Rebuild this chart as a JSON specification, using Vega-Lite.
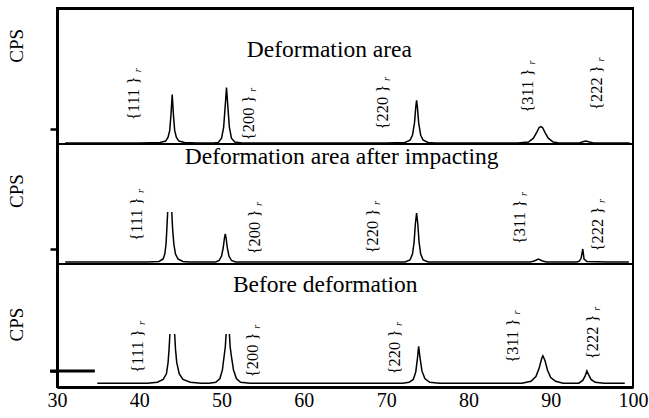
{
  "$schema": "https://vega.github.io/schema/vega-lite/v6.json",
  "background": "white",
  "padding": {"left": 7, "top": 7, "right": 14, "bottom": 3},
  "spacing": 0,
  "bounds": "flush",
  "config": {
    "view": {"stroke": "black", "strokeWidth": 2},
    "concat": {"spacing": 0},
    "axis": {"grid": false, "domainColor": "black", "tickColor": "black", "labelColor": "black", "titleColor": "black", "labelFont": "Liberation Serif", "titleFont": "Liberation Serif"},
    "text": {"font": "Liberation Serif", "color": "black"}
  },
  "resolve": {"scale": {"y": "independent"}},
  "datasets": {
    "line1": [
      {"seg":"a","x":31,"y":1},{"seg":"a","x":40,"y":1},{"seg":"a","x":42.5,"y":1.5},{"seg":"a","x":43.2,"y":3},{"seg":"a","x":43.5,"y":7},{"seg":"a","x":43.7,"y":14},{"seg":"a","x":43.85,"y":30},{"seg":"a","x":44.0,"y":51},{"seg":"a","x":44.15,"y":30},{"seg":"a","x":44.3,"y":14},{"seg":"a","x":44.5,"y":7},{"seg":"a","x":44.8,"y":3},{"seg":"a","x":45.5,"y":1.5},{"seg":"a","x":47,"y":1},{"seg":"a","x":49,"y":1},{"seg":"a","x":49.6,"y":1.5},{"seg":"a","x":50.0,"y":6},{"seg":"a","x":50.25,"y":17},{"seg":"a","x":50.45,"y":40},{"seg":"a","x":50.6,"y":58},{"seg":"a","x":50.75,"y":40},{"seg":"a","x":50.95,"y":17},{"seg":"a","x":51.2,"y":6},{"seg":"a","x":51.6,"y":2},{"seg":"a","x":52.5,"y":1},{"seg":"a","x":70,"y":1},{"seg":"a","x":72.3,"y":1.5},{"seg":"a","x":72.9,"y":4},{"seg":"a","x":73.2,"y":9},{"seg":"a","x":73.45,"y":22},{"seg":"a","x":73.6,"y":38},{"seg":"a","x":73.7,"y":45},{"seg":"a","x":73.8,"y":38},{"seg":"a","x":73.95,"y":22},{"seg":"a","x":74.2,"y":9},{"seg":"a","x":74.5,"y":4},{"seg":"a","x":75.1,"y":1.5},{"seg":"a","x":76,"y":1},{"seg":"a","x":86,"y":1},{"seg":"a","x":87.3,"y":2},{"seg":"a","x":87.9,"y":6},{"seg":"a","x":88.3,"y":12},{"seg":"a","x":88.6,"y":17},{"seg":"a","x":88.8,"y":18},{"seg":"a","x":89.0,"y":17},{"seg":"a","x":89.3,"y":12},{"seg":"a","x":89.7,"y":6},{"seg":"a","x":90.3,"y":2},{"seg":"a","x":91,"y":1},{"seg":"a","x":93.5,"y":1},{"seg":"a","x":94.0,"y":2.5},{"seg":"a","x":94.3,"y":3},{"seg":"a","x":94.7,"y":2},{"seg":"a","x":95.2,"y":1},{"seg":"a","x":99.6,"y":1}
    ],
    "line2": [
      {"seg":"a","x":31,"y":2},{"seg":"a","x":41,"y":2},{"seg":"a","x":42.4,"y":2.5},{"seg":"a","x":42.9,"y":5},{"seg":"a","x":43.1,"y":10},{"seg":"a","x":43.25,"y":20},{"seg":"a","x":43.35,"y":35},{"seg":"a","x":43.45,"y":52},
      {"seg":"b","x":43.95,"y":52},{"seg":"b","x":44.05,"y":35},{"seg":"b","x":44.2,"y":20},{"seg":"b","x":44.4,"y":10},{"seg":"b","x":44.7,"y":5},{"seg":"b","x":45.3,"y":2.5},{"seg":"b","x":46,"y":2},{"seg":"b","x":49.3,"y":2},{"seg":"b","x":49.7,"y":3.5},{"seg":"b","x":50.0,"y":8},{"seg":"b","x":50.2,"y":16},{"seg":"b","x":50.35,"y":26},{"seg":"b","x":50.45,"y":30},{"seg":"b","x":50.55,"y":26},{"seg":"b","x":50.7,"y":16},{"seg":"b","x":50.9,"y":8},{"seg":"b","x":51.2,"y":3.5},{"seg":"b","x":51.7,"y":2},{"seg":"b","x":72.3,"y":2},{"seg":"b","x":72.9,"y":4},{"seg":"b","x":73.2,"y":10},{"seg":"b","x":73.4,"y":22},{"seg":"b","x":73.55,"y":40},{"seg":"b","x":73.7,"y":51},{"seg":"b","x":73.85,"y":40},{"seg":"b","x":74.0,"y":22},{"seg":"b","x":74.2,"y":10},{"seg":"b","x":74.5,"y":4},{"seg":"b","x":75.1,"y":2},{"seg":"b","x":87.5,"y":2},{"seg":"b","x":88.0,"y":3},{"seg":"b","x":88.5,"y":5},{"seg":"b","x":89.0,"y":3},{"seg":"b","x":89.5,"y":2},{"seg":"b","x":93.2,"y":2},{"seg":"b","x":93.5,"y":3},{"seg":"b","x":93.7,"y":6},{"seg":"b","x":93.9,"y":15},{"seg":"b","x":94.05,"y":5},{"seg":"b","x":94.4,"y":2.5},{"seg":"b","x":97,"y":2},{"seg":"b","x":99.5,"y":2}
    ],
    "line3": [
      {"seg":"a","x":34.9,"y":4},{"seg":"a","x":41,"y":4},{"seg":"a","x":42.2,"y":5},{"seg":"a","x":42.9,"y":8},{"seg":"a","x":43.3,"y":14},{"seg":"a","x":43.5,"y":26},{"seg":"a","x":43.62,"y":40},{"seg":"a","x":43.72,"y":56},
      {"seg":"b","x":44.3,"y":56},{"seg":"b","x":44.4,"y":40},{"seg":"b","x":44.55,"y":26},{"seg":"b","x":44.85,"y":14},{"seg":"b","x":45.3,"y":8},{"seg":"b","x":46.2,"y":5},{"seg":"b","x":47.5,"y":4},{"seg":"b","x":48.5,"y":4},{"seg":"b","x":49.3,"y":5},{"seg":"b","x":49.8,"y":9},{"seg":"b","x":50.1,"y":18},{"seg":"b","x":50.3,"y":32},{"seg":"b","x":50.45,"y":42},{"seg":"b","x":50.55,"y":56},
      {"seg":"c","x":50.95,"y":56},{"seg":"c","x":51.05,"y":42},{"seg":"c","x":51.2,"y":32},{"seg":"c","x":51.45,"y":18},{"seg":"c","x":51.8,"y":9},{"seg":"c","x":52.3,"y":5},{"seg":"c","x":53.5,"y":4},{"seg":"c","x":72,"y":4},{"seg":"c","x":72.8,"y":5},{"seg":"c","x":73.3,"y":8},{"seg":"c","x":73.6,"y":16},{"seg":"c","x":73.8,"y":30},{"seg":"c","x":73.95,"y":43},{"seg":"c","x":74.1,"y":32},{"seg":"c","x":74.35,"y":17},{"seg":"c","x":74.7,"y":9},{"seg":"c","x":75.3,"y":5},{"seg":"c","x":76.5,"y":4},{"seg":"c","x":86.5,"y":4},{"seg":"c","x":87.6,"y":6},{"seg":"c","x":88.2,"y":11},{"seg":"c","x":88.6,"y":20},{"seg":"c","x":88.9,"y":30},{"seg":"c","x":89.05,"y":33},{"seg":"c","x":89.3,"y":28},{"seg":"c","x":89.6,"y":18},{"seg":"c","x":90.0,"y":10},{"seg":"c","x":90.6,"y":6},{"seg":"c","x":91.5,"y":4},{"seg":"c","x":93.4,"y":4},{"seg":"c","x":93.9,"y":7},{"seg":"c","x":94.2,"y":12},{"seg":"c","x":94.4,"y":17},{"seg":"c","x":94.6,"y":13},{"seg":"c","x":94.9,"y":8},{"seg":"c","x":95.4,"y":5},{"seg":"c","x":96.5,"y":4},{"seg":"c","x":99,"y":4}
    ],
    "lab1": [
      {"x":39.3,"y":47,"text":"{111 }"},{"x":53.3,"y":27,"text":"{200 }"},{"x":69.6,"y":38,"text":"{220 }"},{"x":87.2,"y":55,"text":"{311 }"},{"x":95.6,"y":58,"text":"{222 }"}
    ],
    "lab2": [
      {"x":39.7,"y":45,"text":"{111 }"},{"x":54.1,"y":32,"text":"{200 }"},{"x":68.4,"y":33,"text":"{220 }"},{"x":86.3,"y":42,"text":"{311 }"},{"x":95.7,"y":35,"text":"{222 }"}
    ],
    "lab3": [
      {"x":39.9,"y":38,"text":"{111 }"},{"x":53.8,"y":34,"text":"{200 }"},{"x":71.1,"y":37,"text":"{220 }"},{"x":85.4,"y":49,"text":"{311 }"},{"x":95.1,"y":53,"text":"{222 }"}
    ],
    "tit1": [{"x":63.1,"y":97,"text":"Deformation area"}],
    "tit2": [{"x":64.6,"y":107,"text":"Deformation area after impacting"}],
    "tit3": [{"x":62.6,"y":108,"text":"Before deformation"}],
    "cps1": [{"x":30,"y":101,"text":"CPS"}],
    "cps2": [{"x":30,"y":73,"text":"CPS"}],
    "cps3": [{"x":30,"y":66,"text":"CPS"}],
    "stub": [{"x":29.15,"x2":34.6,"y":17}]
  },
  "vconcat": [
    {
      "width": 576, "height": 136,
      "layer": [
        {"data": {"name": "line1"}, "mark": {"type": "line", "color": "black", "strokeWidth": 1.5},
         "encoding": {
           "x": {"field": "x", "type": "quantitative", "scale": {"domain": [30, 100]}, "axis": {"orient": "top", "labels": false, "ticks": false, "title": null, "domainWidth": 3}},
           "y": {"field": "y", "type": "quantitative", "scale": {"domain": [0, 136]}, "axis": {"values": [15], "labels": false, "tickSize": 7, "tickWidth": 2.5, "domainWidth": 3, "title": null}},
           "detail": {"field": "seg"}}},
        {"data": {"name": "lab1"}, "mark": {"type": "text", "angle": 270, "fontSize": 16.5, "align": "center", "baseline": "middle"},
         "encoding": {"x": {"field": "x", "type": "quantitative"}, "y": {"field": "y", "type": "quantitative"}, "text": {"field": "text"}}},
        {"data": {"name": "lab1"}, "mark": {"type": "text", "text": "r", "angle": 270, "fontSize": 10, "fontStyle": "italic", "align": "center", "baseline": "middle", "dx": 28, "dy": 4},
         "encoding": {"x": {"field": "x", "type": "quantitative"}, "y": {"field": "y", "type": "quantitative"}}},
        {"data": {"name": "tit1"}, "mark": {"type": "text", "fontSize": 23.5, "align": "center", "baseline": "middle"},
         "encoding": {"x": {"field": "x", "type": "quantitative"}, "y": {"field": "y", "type": "quantitative"}, "text": {"field": "text"}}},
        {"data": {"name": "cps1"}, "mark": {"type": "text", "angle": 270, "fontSize": 19, "align": "center", "baseline": "middle", "dy": -40},
         "encoding": {"x": {"field": "x", "type": "quantitative"}, "y": {"field": "y", "type": "quantitative"}, "text": {"field": "text"}}},
        {"mark": {"type": "rule", "color": "black", "strokeWidth": 3}, "encoding": {"x": {"datum": 100, "type": "quantitative"}}}
      ]
    },
    {
      "width": 576, "height": 120,
      "layer": [
        {"data": {"name": "line2"}, "mark": {"type": "line", "color": "black", "strokeWidth": 1.5},
         "encoding": {
           "x": {"field": "x", "type": "quantitative", "scale": {"domain": [30, 100]}, "axis": {"labels": false, "ticks": false, "title": null, "domain": false}},
           "y": {"field": "y", "type": "quantitative", "scale": {"domain": [0, 120]}, "axis": {"values": [15], "labels": false, "tickSize": 7, "tickWidth": 2.5, "domainWidth": 3, "title": null}},
           "detail": {"field": "seg"}}},
        {"data": {"name": "lab2"}, "mark": {"type": "text", "angle": 270, "fontSize": 16.5, "align": "center", "baseline": "middle"},
         "encoding": {"x": {"field": "x", "type": "quantitative"}, "y": {"field": "y", "type": "quantitative"}, "text": {"field": "text"}}},
        {"data": {"name": "lab2"}, "mark": {"type": "text", "text": "r", "angle": 270, "fontSize": 10, "fontStyle": "italic", "align": "center", "baseline": "middle", "dx": 28, "dy": 4},
         "encoding": {"x": {"field": "x", "type": "quantitative"}, "y": {"field": "y", "type": "quantitative"}}},
        {"data": {"name": "tit2"}, "mark": {"type": "text", "fontSize": 23.5, "align": "center", "baseline": "middle"},
         "encoding": {"x": {"field": "x", "type": "quantitative"}, "y": {"field": "y", "type": "quantitative"}, "text": {"field": "text"}}},
        {"data": {"name": "cps2"}, "mark": {"type": "text", "angle": 270, "fontSize": 19, "align": "center", "baseline": "middle", "dy": -40},
         "encoding": {"x": {"field": "x", "type": "quantitative"}, "y": {"field": "y", "type": "quantitative"}, "text": {"field": "text"}}},
        {"mark": {"type": "rule", "color": "black", "strokeWidth": 3}, "encoding": {"x": {"datum": 100, "type": "quantitative"}}}
      ]
    },
    {
      "width": 576, "height": 123,
      "layer": [
        {"data": {"name": "line3"}, "mark": {"type": "line", "color": "black", "strokeWidth": 1.5},
         "encoding": {
           "x": {"field": "x", "type": "quantitative", "scale": {"domain": [30, 100]}, "axis": {"values": [30, 40, 50, 60, 70, 80, 90, 100], "ticks": false, "labelFontSize": 20, "labelPadding": 3, "labelFlush": false, "domainWidth": 3, "title": null}},
           "y": {"field": "y", "type": "quantitative", "scale": {"domain": [0, 123]}, "axis": {"values": [17], "labels": false, "tickSize": 7, "tickWidth": 2.5, "domainWidth": 3, "title": null}},
           "detail": {"field": "seg"}}},
        {"data": {"name": "lab3"}, "mark": {"type": "text", "angle": 270, "fontSize": 16.5, "align": "center", "baseline": "middle"},
         "encoding": {"x": {"field": "x", "type": "quantitative"}, "y": {"field": "y", "type": "quantitative"}, "text": {"field": "text"}}},
        {"data": {"name": "lab3"}, "mark": {"type": "text", "text": "r", "angle": 270, "fontSize": 10, "fontStyle": "italic", "align": "center", "baseline": "middle", "dx": 28, "dy": 4},
         "encoding": {"x": {"field": "x", "type": "quantitative"}, "y": {"field": "y", "type": "quantitative"}}},
        {"data": {"name": "tit3"}, "mark": {"type": "text", "fontSize": 23.5, "align": "center", "baseline": "middle"},
         "encoding": {"x": {"field": "x", "type": "quantitative"}, "y": {"field": "y", "type": "quantitative"}, "text": {"field": "text"}}},
        {"data": {"name": "cps3"}, "mark": {"type": "text", "angle": 270, "fontSize": 19, "align": "center", "baseline": "middle", "dy": -40},
         "encoding": {"x": {"field": "x", "type": "quantitative"}, "y": {"field": "y", "type": "quantitative"}, "text": {"field": "text"}}},
        {"data": {"name": "stub"}, "mark": {"type": "rule", "color": "black", "strokeWidth": 3},
         "encoding": {"x": {"field": "x", "type": "quantitative"}, "x2": {"field": "x2"}, "y": {"field": "y", "type": "quantitative"}}},
        {"mark": {"type": "rule", "color": "black", "strokeWidth": 3}, "encoding": {"x": {"datum": 100, "type": "quantitative"}}}
      ]
    }
  ]
}
